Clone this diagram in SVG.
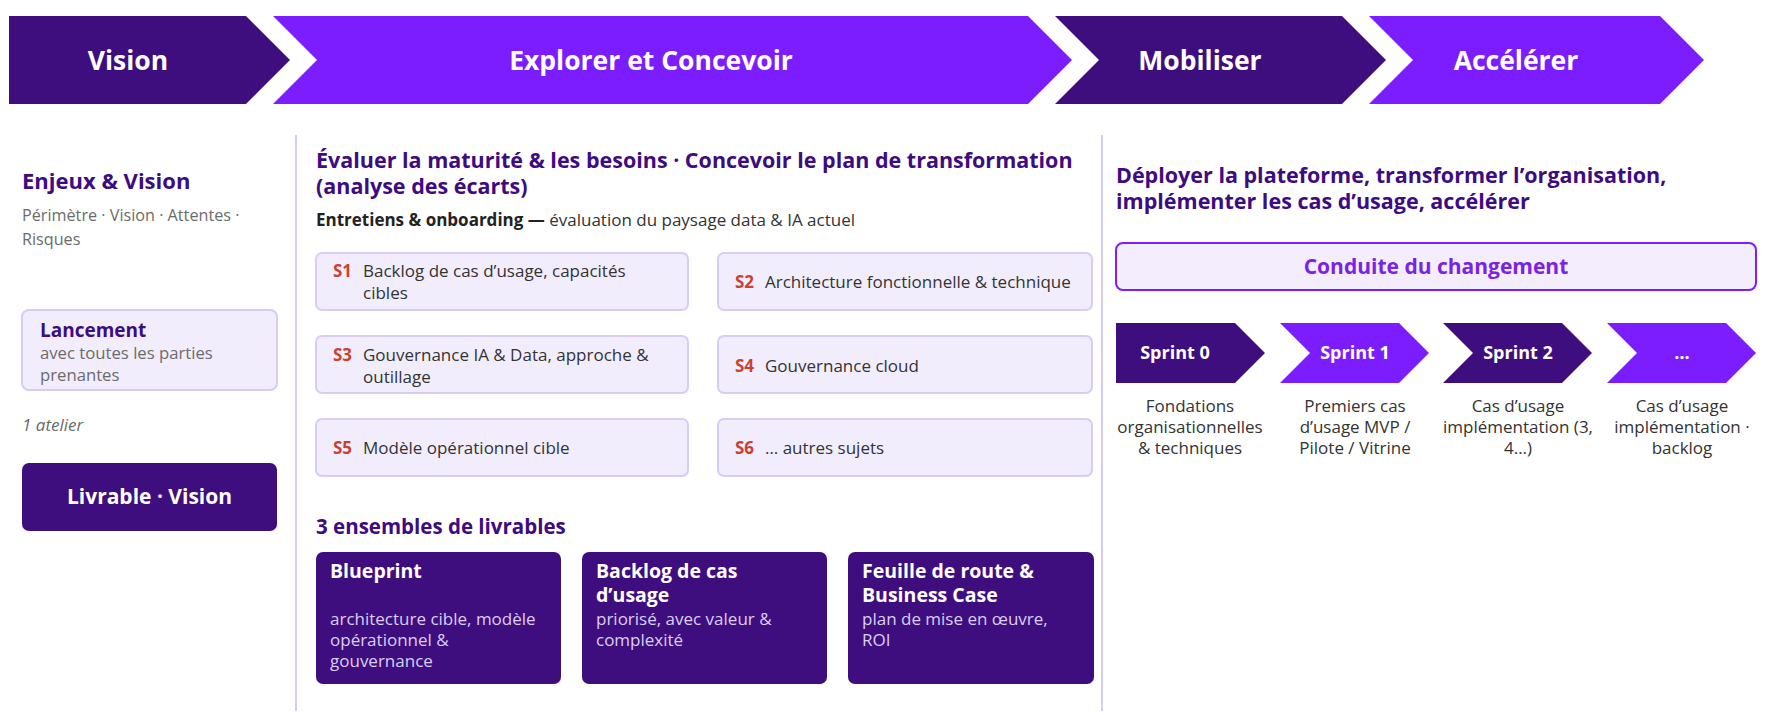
<svg xmlns="http://www.w3.org/2000/svg" width="1765" height="715" viewBox="0 0 1765 715">
<style>
text{font-family:"Open Sans","Noto Sans","Liberation Sans",sans-serif}
.dark{fill:#3f0e7e}
.vio{fill:#7c1dff}
.ph{font-size:26.5px;font-weight:700;fill:#ffffff;text-anchor:middle}
.h{font-size:21.5px;font-weight:700;fill:#3d0b82}
.sub{font-size:16.2px;fill:#6b6b6b}
.card{fill:#f2edfd;stroke:#d8ccf6;stroke-width:2}
.ct{font-size:17px;fill:#333333}
.sl{font-size:17px;font-weight:700;fill:#c9412f}
.sep{stroke:#d5cdf3;stroke-width:2}
.del{fill:#3f0e7e}
.dt{font-size:19.5px;font-weight:700;fill:#ffffff}
.dd{font-size:17px;fill:#d9cff5}
.sp{font-size:18px;font-weight:700;fill:#ffffff;text-anchor:middle}
.spd{font-size:17px;fill:#333333;text-anchor:middle}
</style>
<g id="phases">
<g id="phase-vision"><path class="dark" d="M9,16 H246 L290,60 L246,104 H9 Z"/><text class="ph" x="128" y="70">Vision</text></g>
<g id="phase-explorer"><path class="vio" d="M273,16 H1028 L1072,60 L1028,104 H273 L317,60 Z"/><text class="ph" x="651" y="70">Explorer et Concevoir</text></g>
<g id="phase-mobiliser"><path class="dark" d="M1055,16 H1342 L1386,60 L1342,104 H1055 L1099,60 Z"/><text class="ph" x="1200" y="70">Mobiliser</text></g>
<g id="phase-accelerer"><path class="vio" d="M1369,16 H1660 L1704,60 L1660,104 H1369 L1413,60 Z"/><text class="ph" x="1516" y="70">Accélérer</text></g>
</g>
<g id="separators">
<line class="sep" x1="296" y1="135" x2="296" y2="711"/>
<line class="sep" x1="1102" y1="135" x2="1102" y2="711"/>
</g>
<g id="col-vision">
<text class="h" x="22" y="189" style="font-size:22px">Enjeux &amp; Vision</text>
<text class="sub" x="22" y="221">Périmètre · Vision · Attentes ·</text>
<text class="sub" x="22" y="245">Risques</text>
<g id="lancement">
<rect class="card" x="22" y="310" width="255" height="80" rx="7"/>
<text x="40" y="337" style="font-size:19px;font-weight:700;fill:#3d0b82">Lancement</text>
<text class="sub" x="40" y="359" style="font-size:16.7px">avec toutes les parties</text>
<text class="sub" x="40" y="381" style="font-size:16.7px">prenantes</text>
</g>
<text class="sub" x="22" y="431" style="font-style:italic;font-size:17px">1 atelier</text>
<g id="livrable-vision">
<rect class="del" x="22" y="463" width="255" height="68" rx="7"/>
<text x="149.5" y="504" style="font-size:21px;font-weight:700;fill:#ffffff;text-anchor:middle">Livrable · Vision</text>
</g>
</g>
<g id="col-explorer">
<text class="h" x="316" y="168">Évaluer la maturité &amp; les besoins · Concevoir le plan de transformation</text>
<text class="h" x="316" y="194">(analyse des écarts)</text>
<text class="ct" x="316" y="226"><tspan style="font-weight:700;fill:#222222">Entretiens &amp; onboarding —</tspan> évaluation du paysage data &amp; IA actuel</text>
<g id="s1"><rect class="card" x="316" y="253" width="372" height="57" rx="6"/><text class="sl" x="333" y="277">S1</text><text class="ct" x="363" y="277">Backlog de cas d’usage, capacités</text><text class="ct" x="363" y="299">cibles</text></g>
<g id="s2"><rect class="card" x="718" y="253" width="374" height="57" rx="6"/><text class="sl" x="735" y="288">S2</text><text class="ct" x="765" y="288">Architecture fonctionnelle &amp; technique</text></g>
<g id="s3"><rect class="card" x="316" y="336" width="372" height="57" rx="6"/><text class="sl" x="333" y="361">S3</text><text class="ct" x="363" y="361">Gouvernance IA &amp; Data, approche &amp;</text><text class="ct" x="363" y="383">outillage</text></g>
<g id="s4"><rect class="card" x="718" y="336" width="374" height="57" rx="6"/><text class="sl" x="735" y="372">S4</text><text class="ct" x="765" y="372">Gouvernance cloud</text></g>
<g id="s5"><rect class="card" x="316" y="419" width="372" height="57" rx="6"/><text class="sl" x="333" y="454">S5</text><text class="ct" x="363" y="454">Modèle opérationnel cible</text></g>
<g id="s6"><rect class="card" x="718" y="419" width="374" height="57" rx="6"/><text class="sl" x="735" y="454">S6</text><text class="ct" x="765" y="454">… autres sujets</text></g>
<text class="h" x="316" y="534" style="font-size:20.5px">3 ensembles de livrables</text>
<g id="d-blueprint"><rect class="del" x="316" y="552" width="245" height="132" rx="7"/><text class="dt" x="330" y="578">Blueprint</text><text class="dd" x="330" y="625">architecture cible, modèle</text><text class="dd" x="330" y="646">opérationnel &amp;</text><text class="dd" x="330" y="667">gouvernance</text></g>
<g id="d-backlog"><rect class="del" x="582" y="552" width="245" height="132" rx="7"/><text class="dt" x="596" y="578">Backlog de cas</text><text class="dt" x="596" y="602">d’usage</text><text class="dd" x="596" y="625">priorisé, avec valeur &amp;</text><text class="dd" x="596" y="646">complexité</text></g>
<g id="d-roadmap"><rect class="del" x="848" y="552" width="246" height="132" rx="7"/><text class="dt" x="862" y="578">Feuille de route &amp;</text><text class="dt" x="862" y="602">Business Case</text><text class="dd" x="862" y="625">plan de mise en œuvre,</text><text class="dd" x="862" y="646">ROI</text></g>
</g>
<g id="col-deploy">
<text class="h" x="1116" y="183">Déployer la plateforme, transformer l’organisation,</text>
<text class="h" x="1116" y="209">implémenter les cas d’usage, accélérer</text>
<g id="conduite"><rect x="1116" y="243" width="640" height="47" rx="7" fill="#f4edfd" stroke="#7c1dff" stroke-width="2"/><text x="1436" y="274" style="font-size:21px;font-weight:700;fill:#7a22e6;text-anchor:middle">Conduite du changement</text></g>
<g id="sprint0"><path class="dark" d="M1116,323 H1235 L1265,353 L1235,383 H1116 Z"/><text class="sp" x="1175" y="359">Sprint 0</text><text class="spd" x="1190" y="412">Fondations</text><text class="spd" x="1190" y="433">organisationnelles</text><text class="spd" x="1190" y="454">&amp; techniques</text></g>
<g id="sprint1"><path class="vio" d="M1280,323 H1399 L1429,353 L1399,383 H1280 L1310,353 Z"/><text class="sp" x="1355" y="359">Sprint 1</text><text class="spd" x="1355" y="412">Premiers cas</text><text class="spd" x="1355" y="433">d’usage MVP /</text><text class="spd" x="1355" y="454">Pilote / Vitrine</text></g>
<g id="sprint2"><path class="dark" d="M1443,323 H1562 L1592,353 L1562,383 H1443 L1473,353 Z"/><text class="sp" x="1518" y="359">Sprint 2</text><text class="spd" x="1518" y="412">Cas d’usage</text><text class="spd" x="1518" y="433">implémentation (3,</text><text class="spd" x="1518" y="454">4…)</text></g>
<g id="sprint-n"><path class="vio" d="M1607,323 H1726 L1756,353 L1726,383 H1607 L1637,353 Z"/><text class="sp" x="1682" y="359">…</text><text class="spd" x="1682" y="412">Cas d’usage</text><text class="spd" x="1682" y="433">implémentation ·</text><text class="spd" x="1682" y="454">backlog</text></g>
</g>
</svg>
